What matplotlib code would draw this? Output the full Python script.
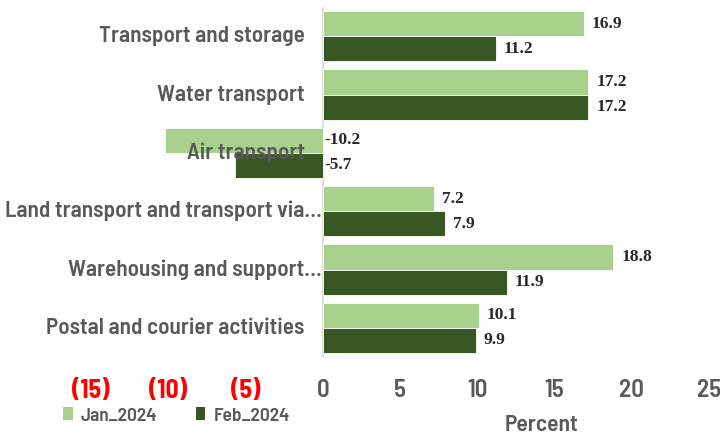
import matplotlib
matplotlib.use("Agg")
import matplotlib.pyplot as plt
from matplotlib.transforms import offset_copy
from matplotlib.patches import Patch
import numpy as np

categories = ["Transport and storage", "Water transport", "Air transport",
              "Land transport and transport via\u2026", "Warehousing and support\u2026",
              "Postal and courier activities"]
jan_2024 = [16.9, 17.2, -10.2, 7.2, 18.8, 10.1]
feb_2024 = [11.2, 17.2, -5.7, 7.9, 11.9, 9.9]
series_names = ["Jan_2024", "Feb_2024"]
xticks = [-15, -10, -5, 0, 5, 10, 15, 20, 25]
xtick_labels = ["(15)", "(10)", "(5)", "0", "5", "10", "15", "20", "25"]
xlabel = "Percent"

SANS = ["Barlow Semi Condensed", "DejaVu Sans"]
SERIF = "Liberation Serif"

LIGHT = "#A9D18E"
DARK = "#385723"
GRAY = "#595959"
FW = 600

fig = plt.figure(figsize=(7.2, 4.36), dpi=100)
ax = fig.add_axes([91/720, 79/436, 618/720, 350/436])

y = np.arange(len(categories))
h = 0.43
ax.barh(y - h/2, jan_2024, height=h, color=LIGHT, edgecolor="white", linewidth=0.6, zorder=2)
ax.barh(y + h/2, feb_2024, height=h, color=DARK, edgecolor="white", linewidth=0.6, zorder=2)

ax.set_xlim(-15, 25)
ax.set_ylim(len(categories) - 0.5, -0.5)
ax.axvline(0, color="#D9D9D9", linewidth=1.2, zorder=1)
for s in ax.spines.values():
    s.set_visible(False)
ax.set_yticks([])
ax.set_xticks(xticks)
ax.set_xticklabels(xtick_labels)
ax.tick_params(axis="x", length=0, pad=16)
for lab, v in zip(ax.get_xticklabels(), xticks):
    lab.set_fontfamily(SANS)
    lab.set_fontsize(18.5 if v < 0 else 18)
    lab.set_fontweight(700 if v < 0 else FW)
    lab.set_color("red" if v < 0 else GRAY)

# value labels
for vals, off in ((jan_2024, -h/2), (feb_2024, h/2)):
    for i, v in enumerate(vals):
        xpos = v if v > 0 else 0
        tr = offset_copy(ax.transData, fig=fig, x=8 if v > 0 else 2, y=0, units="dots")
        ax.text(xpos, i + off, f"{v:.1f}", transform=tr, ha="left", va="center",
                fontfamily=SERIF, fontsize=12.5, fontweight="bold", color="#262626", zorder=4)

# category labels
for i, c in enumerate(categories):
    dx = -1 if c.endswith("\u2026") else -18
    tr = offset_copy(ax.transData, fig=fig, x=dx, y=0, units="dots")
    ax.text(0, i, c, transform=tr, ha="right", va="center", fontfamily=SANS,
            fontsize=16.7, fontweight=FW, color=GRAY, zorder=5, clip_on=False)

fig.text(541/720, 1 - 425/436, xlabel, ha="center", va="center", fontfamily=SANS,
         fontsize=17, fontweight=FW, color=GRAY)

handles = [Patch(facecolor=LIGHT), Patch(facecolor=DARK)]
leg = fig.legend(handles, series_names, loc="center left", bbox_to_anchor=(63/720, 1 - 416/436),
                 ncol=2, frameon=False, borderpad=0, borderaxespad=0,
                 handlelength=0.5, handleheight=0.6, handletextpad=0.4,
                 columnspacing=2.0, prop={"family": SANS, "size": 14, "weight": FW})
for t in leg.get_texts():
    t.set_color(GRAY)

fig.savefig("out.png", dpi=100)
